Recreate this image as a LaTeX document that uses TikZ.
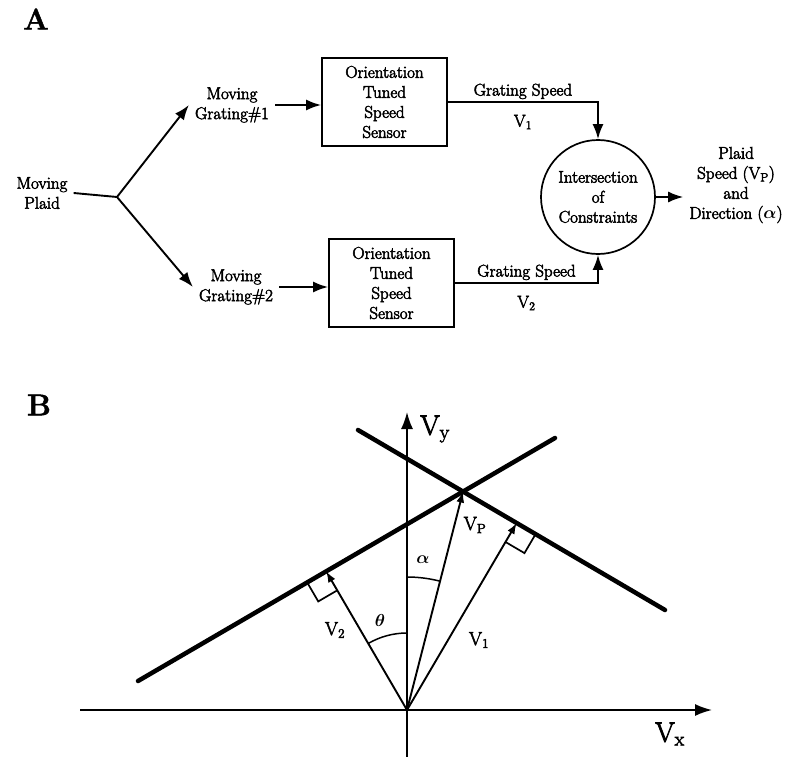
\documentclass[tikz,border=0pt]{standalone}
\usepackage{amsmath}
\usepackage{fontspec}
\newfontfamily\diagfont{Latin Modern Roman}[FakeBold=3]
\newfontfamily\panelfont{Latin Modern Roman}[FakeBold=1.5]
\usepackage{tikz}
\usetikzlibrary{arrows.meta, positioning, calc}

\begin{document}
\begin{tikzpicture}[x=1pt, y=-1pt,
    >={Latex[length=15pt,width=11pt]},
    txt/.style={align=center, inner sep=6pt, font=\fontsize{17}{20}\diagfont},
    lbl/.style={inner sep=2pt, font=\fontsize{17}{20}\diagfont},
    sensor/.style={draw, line width=1.7pt, minimum width=125pt, minimum height=88pt,
        align=center, inner sep=3pt, font=\fontsize{17}{20}\diagfont},
    ioc/.style={draw, circle, line width=1.7pt, minimum size=114pt, inner sep=0pt,
        align=center, font=\fontsize{17}{20}\diagfont},
    flow/.style={->, line width=1.9pt},
    panel/.style={font=\fontsize{30}{30}\panelfont\bfseries},
    axis/.style={-{Latex[length=17pt,width=12pt]}, line width=1.7pt},
    constraint/.style={line width=4.5pt, line cap=round},
    vec/.style={-{Latex[length=11pt,width=8pt]}, line width=1.9pt},
    glyph/.style={inner sep=0pt, font=\fontsize{19}{20}\diagfont}]
    \useasboundingbox (0,0) rectangle (792,757);

    % A: block diagram
    \node[panel] (pa) at (36,19) {A};
    \node[txt] (plaid) at (42,193) {Moving\\Plaid};
    \coordinate (fork) at (117,197);
    \node[txt] (grat1) at (232,105) {Moving\\Grating\#1};
    \node[txt] (grat2) at (236,287) {Moving\\Grating\#2};
    \node[sensor] (sens1) at (384.5,102) {Orientation\\Tuned\\Speed\\Sensor};
    \node[sensor] (sens2) at (391.5,283) {Orientation\\Tuned\\Speed\\Sensor};
    \node[ioc] (ioc) at (598,197) {Intersection\\of\\Constraints};
    \node[txt] (out) at (736,185) {Plaid\\Speed (V\textsubscript{P})\\and\\Direction ($\boldsymbol{\alpha}$)};

    \draw[line width=1.9pt] (plaid.east) -- (fork);
    \draw[flow] (fork) -- (grat1.west);
    \draw[flow] (fork) -- (grat2.west);
    \draw[flow] (grat1.east) -- (grat1.east -| sens1.west);
    \draw[flow] (grat2.east) -- (grat2.east -| sens2.west);
    \draw[flow] (sens1.east) -| (ioc.north)
        node[lbl, pos=0.25, above] (gs1) {Grating Speed}
        node[lbl, pos=0.25, below=10pt] (v1a) {V\textsubscript{1}};
    \draw[flow] (sens2.east) -| (ioc.south)
        node[lbl, pos=0.25, above] (gs2) {Grating Speed}
        node[lbl, pos=0.25, below=10pt] (v2a) {V\textsubscript{2}};
    \draw[flow] (ioc.east) -- (ioc.east -| out.west);

    % B: velocity space
    \node[panel] (pb) at (39,405) {B};
    \begin{scope}[shift={(407,710)}, y=1pt]
        \coordinate (O) at (0,0);
        \coordinate (xl) at (-327,0);
        \coordinate (xr) at (305,0);
        \coordinate (yb) at (0,-47);
        \coordinate (yt) at (0,298);
        \coordinate (c1a) at (-269,29);
        \coordinate (c1b) at (148,272);
        \coordinate (c2a) at (-49,280);
        \coordinate (c2b) at (258,100);

        \draw[axis] (xl) -- (xr);
        \draw[axis] (yb) -- (yt);
        \node[glyph, font=\fontsize{28}{30}\diagfont] (vx) at (263,-24) {V\textsubscript{x}};
        \node[glyph, font=\fontsize{28}{30}\diagfont] (vy) at (28,281) {V\textsubscript{y}};

        % constraint lines
        \draw[constraint] (c1a) -- (c1b);
        \draw[constraint] (c2a) -- (c2b);

        \coordinate (vp) at (intersection of c1a--c1b and c2a--c2b);
        \coordinate (f2) at ($(c1a)!(O)!(c1b)$);
        \coordinate (f1) at ($(c2a)!(O)!(c2b)$);

        \draw[vec] (O) -- (vp);
        \draw[vec] (O) -- (f1);
        \draw[vec] (O) -- (f2);

        % right angles
        \coordinate (r2a) at ($(f2)!22pt!(c1a)$);
        \coordinate (r2b) at ($(f2)!22pt!(O)$);
        \draw[line width=1.7pt] (r2a) -- ($(r2a)+(r2b)-(f2)$) -- (r2b);
        \coordinate (r1a) at ($(f1)!22pt!(c2b)$);
        \coordinate (r1b) at ($(f1)!22pt!(O)$);
        \draw[line width=1.7pt] (r1a) -- ($(r1a)+(r1b)-(f1)$) -- (r1b);

        % angles
        \draw[line width=1.5pt] (0,133) arc[start angle=90, end angle=75.6, radius=133];
        \draw[line width=1.5pt] (0,77) arc[start angle=90, end angle=120.2, radius=77];
        \node[glyph] (alpha) at (16,150) {$\boldsymbol{\alpha}$};
        \node[glyph] (theta) at (-27,90) {$\boldsymbol{\theta}$};

        \node[glyph] (vpl) at (68,185) {V\textsubscript{P}};
        \node[glyph] (v2l) at (-72,80) {V\textsubscript{2}};
        \node[glyph] (v1l) at (72,70) {V\textsubscript{1}};
    \end{scope}
\end{tikzpicture}
\end{document}
